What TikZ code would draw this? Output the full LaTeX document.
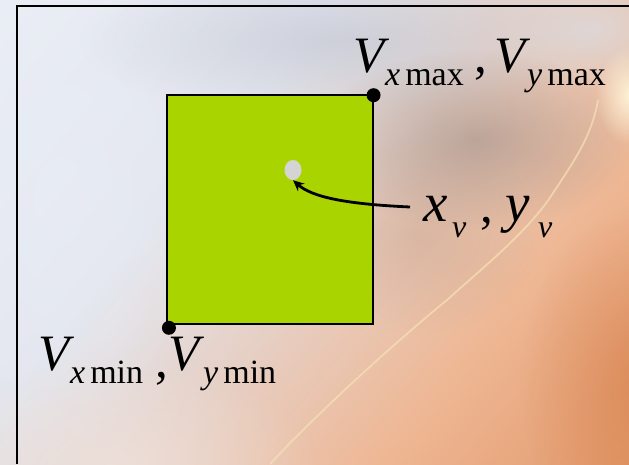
\documentclass[tikz,border=0pt]{standalone}
\usepackage{fontspec}
\setmainfont{Liberation Serif}
\usetikzlibrary{shapes.geometric,arrows.meta,fadings,calc}
\definecolor{rectgreen}{HTML}{AAD400}
\definecolor{dotgray}{HTML}{D4D4D4}
\definecolor{bgA}{HTML}{EEF2F9}
\definecolor{bgB}{HTML}{E3E6EE}
\definecolor{bgC}{HTML}{E6D0C6}
\definecolor{bgD}{HTML}{EEB794}
\definecolor{bgE}{HTML}{D9824C}
\definecolor{bandgray}{HTML}{C4C8D4}
\definecolor{lightgray}{HTML}{DCDADD}
\definecolor{browngray}{HTML}{A08C83}
\definecolor{tan}{HTML}{CDA994}
\definecolor{highlight}{HTML}{FFF6DA}
\definecolor{streak}{HTML}{F6E2B4}
\definecolor{deeporange}{HTML}{D67E48}
\definecolor{pinkwhite}{HTML}{F0E4DE}
\definecolor{bluewhite}{HTML}{E9EDF5}
\pgfdeclarehorizontalshading{bgshade}{100bp}{color(0bp)=(bgA); color(38bp)=(bgB); color(52bp)=(bgC); color(68bp)=(bgD); color(100bp)=(bgE)}
\pgfdeclareradialshading{blobsh}{\pgfpointorigin}{color(0bp)=(pgftransparent!0); color(25bp)=(pgftransparent!100); color(50bp)=(pgftransparent!100)}
\pgfdeclarefading{softblob}{\pgfuseshading{blobsh}}
\tikzset{
  bigV/.style={font=\fontsize{51}{60}\selectfont\itshape, anchor=base west, inner sep=0pt},
  bigr/.style={font=\fontsize{51}{60}\selectfont, anchor=base west, inner sep=0pt},
  subtxt/.style={font=\fontsize{34}{40}\selectfont, anchor=base west, inner sep=0pt},
  bigxy/.style={font=\fontsize{55}{60}\selectfont\itshape, anchor=base west, inner sep=0pt},
  subv/.style={font=\fontsize{32}{36}\selectfont\itshape, anchor=base west, inner sep=0pt},
  corner/.style={circle, fill=black, inner sep=0pt, minimum size=14pt},
  pointer/.style={line width=2.8pt, -{Stealth[length=11pt,width=10pt]}},
  framestyle/.style={line width=2pt, black},
  blob/.style={fill=#1, path fading=softblob}
}
\begin{document}
\begin{tikzpicture}[x=1pt,y=-1pt]
\useasboundingbox (0,0) rectangle (629,464);
% background
\begin{scope}
\clip (0,0) rectangle (629,464);
\shade[shading=bgshade, shading angle=-40] (0,0) rectangle (629,464);
\fill[blob=bluewhite, fill opacity=0.6] (60,200) ellipse (160 and 260);
\fill[blob=pinkwhite, fill opacity=0.7] (120,470) ellipse (200 and 110);
\fill[blob=bandgray, fill opacity=0.7] (340,40) ellipse (260 and 80);
\fill[blob=lightgray, fill opacity=0.8] (590,30) ellipse (110 and 60);
\fill[blob=tan, fill opacity=0.55] (420,235) ellipse (120 and 100);
\fill[blob=browngray, fill opacity=0.6] (475,140) ellipse (160 and 90);
\fill[blob=deeporange, fill opacity=0.6] (640,380) ellipse (120 and 170);
\fill[blob=highlight, fill opacity=0.95] (630,95) ellipse (35 and 50);
\draw[streak, line width=1.8pt, opacity=0.7] (598,100) .. controls (592,135) and (575,160) .. (553,193) .. controls (530,230) and (480,270) .. (447,300) .. controls (410,330) and (330,400) .. (270,464);
\end{scope}
% frame
\draw[framestyle] (17,464) -- (17,6) -- (629,6);
% rectangle
\node[draw=black, line width=1.6pt, fill=rectgreen, minimum width=206pt, minimum height=229pt, inner sep=0pt] (box) at (269.75,209.5) {};
\node[corner] (tr) at ($(box.north east)+(0,1)$) {};
\node[corner] (bl) at ($(box.south west)+(3,3)$) {};
% centre point
\node[ellipse, fill=dotgray, minimum width=17pt, minimum height=20pt, inner sep=0pt] (gdot) at (293,170) {};
% top label
\node[bigV] (v1) at (353,72) {V};
\node[subtxt] (s1) at (385,85) {\textit{x}\hspace{5pt}max};
\node[bigr] (c1) at (474,72) {,};
\node[bigV] (v2) at (494,72) {V};
\node[subtxt] (s2) at (527,85) {\textit{y}\hspace{5pt}max};
% bottom label
\node[bigV] (v3) at (38,370) {V};
\node[subtxt] (s3) at (70,383) {\textit{x}\hspace{5pt}min};
\node[bigr] (c3) at (155,377) {,};
\node[bigV] (v4) at (168,370) {V};
\node[subtxt] (s4) at (203,383) {\textit{y}\hspace{5pt}min};
% xv, yv label
\node[bigxy] (xl) at (423,221) {x};
\node[subv] (xs) at (452,237) {v};
\node[bigr] (cm) at (480,222) {,};
\node[bigxy] (yl) at (505,221) {y};
\node[subv] (ys) at (538,237) {v};
\coordinate (xvstart) at (410,207);
\draw[pointer] (xvstart) .. controls (345,204) and (312,197) .. (gdot.south);
\end{tikzpicture}
\end{document}
